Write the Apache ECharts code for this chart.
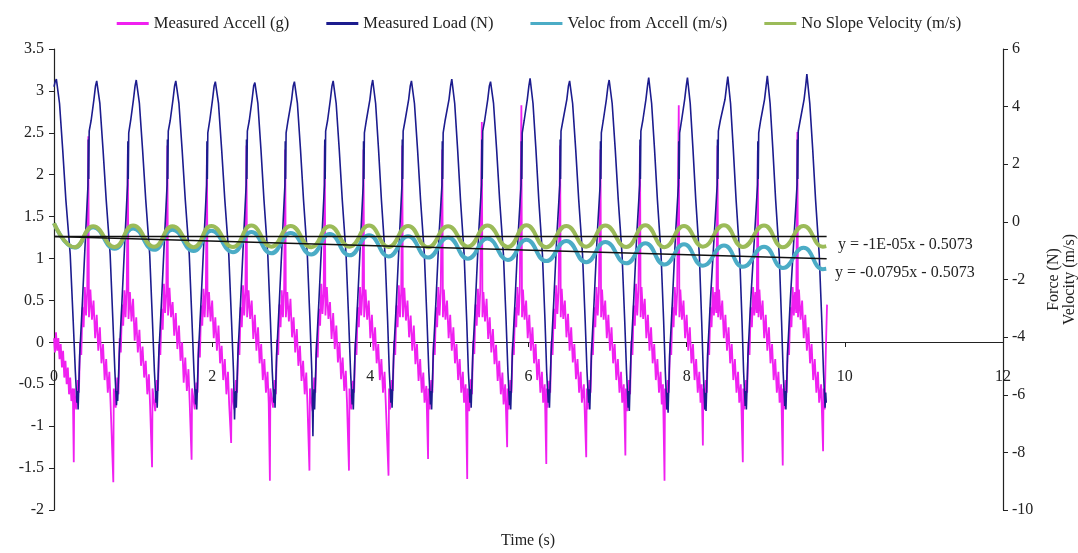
<!DOCTYPE html>
<html>
<head>
<meta charset="utf-8">
<script src="https://cdn.jsdelivr.net/npm/echarts@6.0.0/dist/echarts.min.js"></script>
<style>
  html, body { margin: 0; padding: 0; background: #fff; }
  #content { width: 1078px; height: 553px; }
</style>
</head>
<body>
<div id="content"></div>
<script>
// 数据（从图上读出的点，[时间 s, 数值]）
const legendNames = ["Measured Accell (g)", "Measured Load (N)", "Veloc from Accell (m/s)", "No Slope Velocity (m/s)"];
const leftTicks = { min: -2, max: 3.5, step: 0.5 };
const rightTicks = { min: -10, max: 6, step: 2 };
const timeTicks = { min: 0, max: 12, step: 2 };
const trendText = ["y = -1E-05x - 0.5073", "y = -0.0795x - 0.5073"];

const accelPts = [
  [0,0.05],[0.012,-0.12],[0.025,0.12],[0.04,-0.1],[0.055,0.05],[0.07,-0.2],[0.085,-0.02],[0.1,-0.3],[0.115,-0.1],[0.13,-0.42],[0.145,-0.22],[0.16,-0.5],[0.175,-0.3],[0.19,-0.62],[0.205,-0.42],[0.22,-0.7],[0.238,-0.55],[0.25,-1.43],[0.256,-0.55],
  [0.28,-0.8],[0.3,-0.45],[0.315,-0.6],[0.33,0.0],[0.345,-0.15],[0.36,0.42],[0.375,0.18],[0.39,0.66],[0.405,0.32],[0.42,0.6],[0.434,2.46],[0.442,0.3],[0.46,0.63],[0.48,0.27],[0.5,0.5],[0.52,0.05],[0.54,0.33],[0.56,-0.1],[0.58,0.18],[0.6,-0.25],[0.62,-0.02],[0.64,-0.45],[0.66,-0.2],[0.68,-0.6],[0.7,-0.35],[0.715,-0.72],[0.75,-1.67],[0.756,-0.55],
  [0.78,-0.78],[0.8,-0.42],[0.815,-0.62],[0.83,0.05],[0.845,-0.12],[0.86,0.45],[0.875,0.2],[0.89,0.62],[0.905,0.3],[0.92,0.65],[0.934,2.3],[0.942,0.28],[0.96,0.6],[0.98,0.25],[1.0,0.52],[1.02,0.02],[1.04,0.3],[1.06,-0.12],[1.08,0.15],[1.1,-0.28],[1.12,-0.05],[1.14,-0.42],[1.16,-0.22],[1.18,-0.62],[1.2,-0.38],[1.215,-0.75],[1.24,-1.49],[1.246,-0.55],
  [1.28,-0.82],[1.3,-0.45],[1.315,-0.58],[1.33,-0.02],[1.345,-0.15],[1.36,0.4],[1.375,0.15],[1.39,0.7],[1.405,0.35],[1.42,0.58],[1.434,2.35],[1.442,0.32],[1.46,0.65],[1.48,0.3],[1.5,0.48],[1.52,0.08],[1.54,0.35],[1.56,-0.08],[1.58,0.2],[1.6,-0.22],[1.62,0.0],[1.64,-0.48],[1.66,-0.18],[1.68,-0.58],[1.7,-0.32],[1.715,-0.7],[1.74,-1.4],[1.746,-0.55],
  [1.78,-0.8],[1.8,-0.48],[1.815,-0.6],[1.83,0.02],[1.845,-0.18],[1.86,0.44],[1.875,0.2],[1.89,0.64],[1.905,0.3],[1.92,0.62],[1.934,2.3],[1.942,0.3],[1.96,0.6],[1.98,0.25],[2.0,0.5],[2.02,0.05],[2.04,0.3],[2.06,-0.1],[2.08,0.2],[2.1,-0.25],[2.12,-0.04],[2.14,-0.45],[2.16,-0.2],[2.18,-0.62],[2.2,-0.35],[2.215,-0.74],[2.24,-1.2],[2.246,-0.55],
  [2.28,-0.8],[2.3,-0.45],[2.315,-0.6],[2.33,0.0],[2.345,-0.15],[2.36,0.42],[2.375,0.18],[2.39,0.68],[2.405,0.32],[2.42,0.6],[2.434,2.35],[2.442,0.3],[2.46,0.62],[2.48,0.28],[2.5,0.5],[2.52,0.04],[2.54,0.33],[2.56,-0.1],[2.58,0.18],[2.6,-0.25],[2.62,-0.02],[2.64,-0.45],[2.66,-0.2],[2.68,-0.6],[2.7,-0.35],[2.715,-0.72],[2.73,-1.65],[2.736,-0.55],
  [2.77,-0.78],[2.79,-0.45],[2.805,-0.62],[2.82,0.03],[2.835,-0.15],[2.85,0.45],[2.865,0.18],[2.88,0.62],[2.895,0.3],[2.91,0.64],[2.924,2.3],[2.932,0.3],[2.95,0.6],[2.97,0.25],[2.99,0.52],[3.01,0.06],[3.03,0.3],[3.05,-0.12],[3.07,0.16],[3.09,-0.28],[3.11,-0.04],[3.13,-0.46],[3.15,-0.22],[3.17,-0.62],[3.19,-0.36],[3.205,-0.74],[3.23,-1.53],[3.236,-0.55],
  [3.27,-0.82],[3.29,-0.42],[3.305,-0.6],[3.32,0.0],[3.335,-0.18],[3.35,0.4],[3.365,0.2],[3.38,0.7],[3.395,0.34],[3.41,0.58],[3.424,2.35],[3.432,0.32],[3.45,0.66],[3.47,0.28],[3.49,0.48],[3.51,0.04],[3.53,0.35],[3.55,-0.08],[3.57,0.2],[3.59,-0.24],[3.61,0.0],[3.63,-0.44],[3.65,-0.18],[3.67,-0.58],[3.69,-0.34],[3.705,-0.72],[3.73,-1.53],[3.736,-0.55],
  [3.76,-0.8],[3.78,-0.46],[3.795,-0.6],[3.81,0.0],[3.825,-0.15],[3.84,0.42],[3.855,0.18],[3.87,0.66],[3.885,0.32],[3.9,0.6],[3.914,2.3],[3.922,0.3],[3.94,0.63],[3.96,0.27],[3.98,0.5],[4.0,0.05],[4.02,0.33],[4.04,-0.1],[4.06,0.18],[4.08,-0.25],[4.1,-0.02],[4.12,-0.45],[4.14,-0.2],[4.16,-0.6],[4.18,-0.35],[4.195,-0.72],[4.23,-1.59],[4.236,-0.55],
  [4.25,-0.8],[4.27,-0.45],[4.285,-0.58],[4.3,0.02],[4.315,-0.15],[4.33,0.44],[4.345,0.18],[4.36,0.68],[4.375,0.3],[4.39,0.6],[4.404,2.35],[4.412,0.3],[4.43,0.65],[4.45,0.26],[4.47,0.5],[4.49,0.06],[4.51,0.32],[4.53,-0.1],[4.55,0.2],[4.57,-0.26],[4.59,-0.02],[4.61,-0.46],[4.63,-0.2],[4.65,-0.6],[4.67,-0.36],[4.685,-0.72],[4.708,-0.52],[4.73,-1.39],[4.736,-0.55],
  [4.75,-0.8],[4.77,-0.45],[4.785,-0.6],[4.8,0.0],[4.815,-0.15],[4.83,0.42],[4.845,0.18],[4.86,0.66],[4.875,0.32],[4.89,0.6],[4.91,2.3],[4.918,0.3],[4.93,0.63],[4.95,0.27],[4.97,0.5],[4.99,0.05],[5.01,0.33],[5.03,-0.1],[5.05,0.18],[5.07,-0.25],[5.09,-0.02],[5.11,-0.45],[5.13,-0.2],[5.15,-0.6],[5.17,-0.35],[5.185,-0.72],[5.205,-0.5],[5.225,-1.63],[5.231,-0.55],
  [5.25,-0.82],[5.27,-0.44],[5.285,-0.62],[5.3,0.02],[5.315,-0.14],[5.33,0.45],[5.345,0.2],[5.36,0.64],[5.375,0.3],[5.39,0.62],[5.41,2.63],[5.418,0.3],[5.43,0.6],[5.45,0.25],[5.47,0.52],[5.49,0.04],[5.51,0.3],[5.53,-0.12],[5.55,0.16],[5.57,-0.26],[5.59,-0.03],[5.61,-0.46],[5.63,-0.22],[5.65,-0.62],[5.67,-0.36],[5.685,-0.74],[5.705,-0.5],[5.73,-1.25],[5.736,-0.55],
  [5.75,-0.8],[5.77,-0.45],[5.785,-0.6],[5.8,0.0],[5.815,-0.15],[5.83,0.42],[5.845,0.18],[5.86,0.66],[5.875,0.32],[5.89,0.6],[5.91,2.83],[5.918,0.3],[5.93,0.63],[5.95,0.27],[5.97,0.5],[5.99,0.05],[6.01,0.33],[6.03,-0.1],[6.05,0.18],[6.07,-0.25],[6.09,-0.02],[6.11,-0.45],[6.13,-0.2],[6.15,-0.6],[6.17,-0.35],[6.185,-0.72],[6.205,-0.5],[6.225,-1.45],[6.231,-0.55],
  [6.24,-0.78],[6.26,-0.46],[6.275,-0.6],[6.29,0.02],[6.305,-0.15],[6.32,0.4],[6.335,0.16],[6.35,0.68],[6.365,0.34],[6.38,0.6],[6.4,2.35],[6.408,0.3],[6.42,0.64],[6.44,0.28],[6.46,0.5],[6.48,0.06],[6.5,0.34],[6.52,-0.1],[6.54,0.18],[6.56,-0.24],[6.58,-0.02],[6.6,-0.44],[6.62,-0.2],[6.64,-0.6],[6.66,-0.35],[6.675,-0.72],[6.7,-0.5],[6.73,-1.37],[6.736,-0.55],
  [6.75,-0.8],[6.77,-0.45],[6.785,-0.6],[6.8,0.0],[6.815,-0.15],[6.83,0.42],[6.845,0.18],[6.86,0.66],[6.875,0.32],[6.89,0.6],[6.91,2.3],[6.918,0.3],[6.93,0.63],[6.95,0.27],[6.97,0.5],[6.99,0.05],[7.01,0.33],[7.03,-0.1],[7.05,0.18],[7.07,-0.25],[7.09,-0.02],[7.11,-0.45],[7.13,-0.2],[7.15,-0.6],[7.17,-0.35],[7.185,-0.72],[7.205,-0.5],[7.225,-1.35],[7.231,-0.55],
  [7.25,-0.82],[7.27,-0.45],[7.285,-0.62],[7.3,0.02],[7.315,-0.15],[7.33,0.44],[7.345,0.2],[7.36,0.7],[7.375,0.32],[7.39,0.62],[7.41,2.35],[7.418,0.3],[7.43,0.66],[7.45,0.28],[7.47,0.52],[7.49,0.05],[7.51,0.33],[7.53,-0.1],[7.55,0.18],[7.57,-0.25],[7.59,-0.02],[7.61,-0.45],[7.63,-0.2],[7.65,-0.6],[7.67,-0.35],[7.685,-0.74],[7.7,-0.5],[7.72,-1.65],[7.726,-0.55],
  [7.74,-0.8],[7.76,-0.45],[7.775,-0.6],[7.79,0.0],[7.805,-0.15],[7.82,0.42],[7.835,0.18],[7.85,0.66],[7.865,0.32],[7.88,0.6],[7.9,2.83],[7.908,0.3],[7.92,0.63],[7.94,0.27],[7.96,0.5],[7.98,0.05],[8.0,0.33],[8.02,-0.1],[8.04,0.18],[8.06,-0.25],[8.08,-0.02],[8.1,-0.45],[8.12,-0.2],[8.14,-0.6],[8.16,-0.35],[8.175,-0.72],[8.19,-0.5],[8.205,-1.23],[8.211,-0.55],
  [8.22,-0.8],[8.24,-0.45],[8.255,-0.6],[8.27,0.0],[8.285,-0.15],[8.3,0.42],[8.315,0.18],[8.33,0.66],[8.345,0.32],[8.36,0.6],[8.375,0.35],[8.39,2.35],[8.398,0.3],[8.41,0.63],[8.43,0.27],[8.45,0.5],[8.47,0.05],[8.49,0.33],[8.51,-0.1],[8.53,0.18],[8.55,-0.25],[8.57,-0.02],[8.59,-0.45],[8.61,-0.2],[8.63,-0.6],[8.65,-0.35],[8.665,-0.72],[8.685,-0.5],[8.71,-1.43],[8.716,-0.55],
  [8.73,-0.8],[8.75,-0.45],[8.765,-0.6],[8.78,0.0],[8.795,-0.15],[8.81,0.42],[8.825,0.18],[8.84,0.66],[8.855,0.32],[8.87,0.6],[8.885,0.35],[8.9,2.3],[8.908,0.3],[8.92,0.63],[8.94,0.27],[8.96,0.5],[8.98,0.05],[9.0,0.33],[9.02,-0.1],[9.04,0.18],[9.06,-0.25],[9.08,-0.02],[9.1,-0.45],[9.12,-0.2],[9.14,-0.6],[9.16,-0.35],[9.175,-0.72],[9.195,-0.5],[9.215,-1.47],[9.221,-0.55],
  [9.23,-0.8],[9.25,-0.45],[9.265,-0.6],[9.28,0.0],[9.295,-0.15],[9.31,0.42],[9.325,0.18],[9.34,0.66],[9.355,0.32],[9.37,0.6],[9.385,0.35],[9.4,2.51],[9.408,0.3],[9.42,0.63],[9.44,0.27],[9.46,0.5],[9.48,0.05],[9.5,0.33],[9.52,-0.1],[9.54,0.18],[9.56,-0.25],[9.58,-0.02],[9.6,-0.45],[9.62,-0.2],[9.64,-0.6],[9.66,-0.35],[9.675,-0.72],[9.7,-0.5],[9.725,-1.3],[9.731,-0.55],
  [9.745,-0.8],[9.755,-0.3],[9.765,0.1],[9.775,0.45]
];

const loadPts = [
  [0,3.05],[0.015,3.11],
  [0.03,3.14],[0.07,2.85],[0.11,2.3],[0.15,1.7],[0.205,1.05],[0.243,0.25],[0.27,-0.35],[0.29,-0.72],[0.298,-0.58],[0.305,-0.8],[0.325,-0.15],[0.36,0.5],[0.4,1.3],[0.43,1.88],[0.434,2.42],[0.439,1.95],[0.445,2.52],[0.47,2.65],[0.505,2.9],[0.525,3.06],
  [0.54,3.12],[0.58,2.85],[0.62,2.3],[0.66,1.7],[0.71,1.05],[0.745,0.25],[0.77,-0.35],[0.79,-0.75],[0.798,-0.58],[0.805,-0.7],[0.825,-0.15],[0.86,0.5],[0.9,1.3],[0.93,1.88],[0.934,2.4],[0.939,1.95],[0.945,2.5],[0.97,2.65],[1.005,2.9],[1.025,3.06],
  [1.04,3.13],[1.08,2.85],[1.12,2.3],[1.16,1.7],[1.21,1.05],[1.245,0.25],[1.27,-0.35],[1.29,-0.72],[1.298,-0.58],[1.305,-0.78],[1.325,-0.15],[1.36,0.5],[1.4,1.3],[1.43,1.88],[1.434,2.42],[1.439,1.95],[1.445,2.52],[1.47,2.65],[1.505,2.9],[1.525,3.06],
  [1.54,3.12],[1.58,2.85],[1.62,2.3],[1.66,1.7],[1.71,1.05],[1.745,0.25],[1.77,-0.35],[1.79,-0.74],[1.798,-0.56],[1.805,-0.8],[1.825,-0.15],[1.86,0.5],[1.9,1.3],[1.93,1.88],[1.934,2.4],[1.939,1.95],[1.945,2.5],[1.97,2.65],[2.005,2.9],[2.025,3.06],
  [2.04,3.11],[2.08,2.85],[2.12,2.3],[2.16,1.7],[2.21,1.05],[2.245,0.25],[2.27,-0.35],[2.283,-0.92],[2.29,-0.65],[2.298,-0.58],[2.305,-0.78],[2.325,-0.15],[2.36,0.5],[2.4,1.3],[2.43,1.88],[2.434,2.42],[2.439,1.95],[2.445,2.52],[2.47,2.65],[2.505,2.9],[2.525,3.06],
  [2.54,3.1],[2.578,2.85],[2.617,2.3],[2.655,1.7],[2.703,1.05],[2.737,0.25],[2.76,-0.35],[2.78,-0.72],[2.788,-0.56],[2.795,-0.78],[2.815,-0.15],[2.85,0.5],[2.89,1.3],[2.92,1.88],[2.924,2.4],[2.929,1.95],[2.935,2.5],[2.96,2.65],[3.005,2.9],[3.025,3.06],
  [3.04,3.11],[3.078,2.85],[3.117,2.3],[3.155,1.7],[3.203,1.05],[3.237,0.25],[3.26,-0.35],[3.274,-1.12],[3.28,-0.7],[3.288,-0.56],[3.295,-0.8],[3.315,-0.15],[3.35,0.5],[3.39,1.3],[3.42,1.88],[3.424,2.42],[3.429,1.95],[3.435,2.52],[3.46,2.65],[3.495,2.9],[3.515,3.06],
  [3.53,3.12],[3.568,2.85],[3.607,2.3],[3.645,1.7],[3.693,1.05],[3.727,0.25],[3.75,-0.35],[3.77,-0.74],[3.778,-0.56],[3.785,-0.8],[3.805,-0.15],[3.84,0.5],[3.88,1.3],[3.91,1.88],[3.914,2.4],[3.919,1.95],[3.925,2.5],[3.95,2.65],[3.995,2.9],[4.015,3.06],
  [4.03,3.13],[4.067,2.85],[4.104,2.3],[4.14,1.7],[4.186,1.05],[4.219,0.25],[4.24,-0.35],[4.26,-0.72],[4.268,-0.56],[4.275,-0.78],[4.295,-0.15],[4.33,0.5],[4.37,1.3],[4.4,1.88],[4.404,2.42],[4.409,1.95],[4.415,2.52],[4.44,2.65],[4.485,2.9],[4.505,3.06],
  [4.52,3.12],[4.558,2.85],[4.597,2.3],[4.635,1.7],[4.683,1.05],[4.717,0.25],[4.74,-0.35],[4.76,-0.74],[4.768,-0.58],[4.775,-0.8],[4.795,-0.15],[4.83,0.5],[4.87,1.3],[4.906,1.88],[4.91,2.4],[4.915,1.95],[4.921,2.5],[4.946,2.65],[4.995,2.9],[5.015,3.06],
  [5.03,3.14],[5.067,2.85],[5.104,2.3],[5.14,1.7],[5.186,1.05],[5.219,0.25],[5.24,-0.35],[5.26,-0.72],[5.268,-0.56],[5.275,-0.78],[5.295,-0.15],[5.33,0.5],[5.37,1.3],[5.406,1.88],[5.41,2.42],[5.415,1.95],[5.421,2.52],[5.446,2.65],[5.485,2.9],[5.505,3.06],
  [5.52,3.11],[5.558,2.85],[5.597,2.3],[5.635,1.7],[5.683,1.05],[5.717,0.25],[5.74,-0.35],[5.76,-0.75],[5.768,-0.58],[5.775,-0.8],[5.795,-0.15],[5.83,0.5],[5.87,1.3],[5.906,1.88],[5.91,2.4],[5.915,1.95],[5.921,2.5],[5.946,2.65],[5.985,2.9],[6.005,3.06],
  [6.02,3.15],[6.057,2.85],[6.094,2.3],[6.13,1.7],[6.176,1.05],[6.209,0.25],[6.23,-0.35],[6.25,-0.72],[6.258,-0.56],[6.265,-0.78],[6.285,-0.15],[6.32,0.5],[6.36,1.3],[6.396,1.88],[6.4,2.42],[6.405,1.95],[6.411,2.52],[6.436,2.65],[6.485,2.9],[6.505,3.06],
  [6.52,3.12],[6.558,2.85],[6.597,2.3],[6.635,1.7],[6.683,1.05],[6.717,0.25],[6.74,-0.35],[6.76,-0.72],[6.768,-0.56],[6.775,-0.8],[6.795,-0.15],[6.83,0.5],[6.87,1.3],[6.906,1.88],[6.91,2.4],[6.915,1.95],[6.921,2.5],[6.946,2.65],[6.985,2.9],[7.005,3.06],
  [7.02,3.13],[7.058,2.85],[7.097,2.3],[7.135,1.7],[7.183,1.05],[7.217,0.25],[7.24,-0.35],[7.26,-0.78],[7.268,-0.58],[7.275,-0.82],[7.295,-0.15],[7.33,0.5],[7.37,1.3],[7.406,1.88],[7.41,2.42],[7.415,1.95],[7.421,2.52],[7.446,2.65],[7.485,2.9],[7.505,3.06],
  [7.52,3.16],[7.557,2.85],[7.594,2.3],[7.63,1.7],[7.676,1.05],[7.709,0.25],[7.73,-0.35],[7.75,-0.8],[7.758,-0.6],[7.765,-0.84],[7.785,-0.15],[7.82,0.5],[7.86,1.3],[7.896,1.88],[7.9,2.4],[7.905,1.95],[7.911,2.5],[7.936,2.65],[7.975,2.9],[7.995,3.06],
  [8.01,3.16],[8.045,2.85],[8.08,2.3],[8.115,1.7],[8.16,1.05],[8.19,0.25],[8.21,-0.35],[8.23,-0.8],[8.238,-0.6],[8.245,-0.82],[8.265,-0.15],[8.3,0.5],[8.35,1.3],[8.386,1.88],[8.39,2.42],[8.395,1.95],[8.401,2.52],[8.426,2.65],[8.485,2.9],[8.505,3.06],
  [8.52,3.17],[8.555,2.85],[8.59,2.3],[8.625,1.7],[8.67,1.05],[8.7,0.25],[8.72,-0.35],[8.74,-0.76],[8.748,-0.58],[8.755,-0.8],[8.775,-0.15],[8.81,0.5],[8.86,1.3],[8.896,1.88],[8.9,2.4],[8.905,1.95],[8.911,2.5],[8.936,2.65],[8.985,2.9],[9.005,3.06],
  [9.02,3.18],[9.055,2.85],[9.09,2.3],[9.125,1.7],[9.17,1.05],[9.2,0.25],[9.22,-0.35],[9.24,-0.76],[9.248,-0.58],[9.255,-0.8],[9.275,-0.15],[9.31,0.5],[9.36,1.3],[9.396,1.88],[9.4,2.42],[9.405,1.95],[9.411,2.52],[9.436,2.65],[9.485,2.9],[9.505,3.06],
  [9.52,3.2],[9.557,2.85],[9.594,2.3],[9.63,1.7],[9.676,1.05],[9.709,0.25],[9.73,-0.35],[9.75,-0.78],[9.758,-0.6],[9.765,-0.72]
];

const velocPts = [
  [0,-0.05],[0.262,-0.89],[0.495,-0.19],[0.767,-0.93],[1.0,-0.23],[1.265,-0.97],[1.497,-0.27],[1.766,-1.01],
  [1.99,-0.31],[2.263,-1.05],[2.496,-0.35],[2.748,-1.09],[2.993,-0.39],[3.253,-1.13],[3.486,-0.42],[3.738,-1.16],
  [3.984,-0.46],[4.231,-1.2],[4.477,-0.5],[4.729,-1.24],[4.983,-0.54],[5.234,-1.28],[5.48,-0.58],[5.74,-1.32],
  [5.973,-0.62],[6.224,-1.36],[6.478,-0.66],[6.73,-1.4],[6.971,-0.7],[7.236,-1.44],[7.477,-0.74],[7.72,-1.48],
  [7.966,-0.78],[8.205,-1.52],[8.472,-0.82],[8.711,-1.56],[8.978,-0.86],[9.216,-1.6],[9.478,-0.9],[9.722,-1.64],[9.765,-1.63]
];

const noSlopePts = [
  [0,-0.05],[0.262,-0.88],[0.495,-0.15],[0.767,-0.87],[1.0,-0.13],[1.265,-0.86],[1.497,-0.15],[1.766,-0.88],
  [1.99,-0.14],[2.263,-0.87],[2.496,-0.13],[2.748,-0.86],[2.993,-0.14],[3.253,-0.88],[3.486,-0.15],[3.738,-0.86],
  [3.984,-0.13],[4.231,-0.87],[4.477,-0.14],[4.729,-0.88],[4.983,-0.15],[5.234,-0.86],[5.48,-0.13],[5.74,-0.87],
  [5.973,-0.12],[6.224,-0.88],[6.478,-0.14],[6.73,-0.86],[6.971,-0.13],[7.236,-0.87],[7.477,-0.12],[7.72,-0.88],
  [7.966,-0.14],[8.205,-0.86],[8.472,-0.12],[8.711,-0.87],[8.978,-0.13],[9.216,-0.88],[9.478,-0.14],[9.722,-0.86],[9.765,-0.84]
];

const trendFlatPts = [[0,-0.5073],[9.77,-0.5074]];
const trendSlopePts = [[0,-0.5073],[9.77,-1.284]];

const serifFont = "'Liberation Serif', 'DejaVu Serif', serif";

let myChart = echarts.init(document.getElementById("content"));

let lineSeries = (name, data, color, width, axis, smooth) => ({
  name: name,
  type: "line",
  data: data,
  yAxisIndex: axis,
  symbol: "none",
  smooth: smooth,
  sampling: null,
  lineStyle: { color: color, width: width },
  itemStyle: { color: color },
});

myChart.setOption({
  animation: false,
  backgroundColor: "#fff",
  textStyle: { fontFamily: serifFont },
  legend: {
    data: legendNames,
    top: 10,
    left: "center",
    icon: "rect",
    itemWidth: 32,
    itemHeight: 3,
    itemGap: 37,
    textStyle: { fontFamily: serifFont, fontSize: 16.5, color: "#222" },
  },
  grid: { left: 54, right: 75, top: 49, bottom: 43, outerBoundsMode: "none", containLabel: false },
  xAxis: {
    type: "value",
    min: timeTicks.min,
    max: timeTicks.max,
    interval: timeTicks.step,
    // 横轴放在左轴 0 的位置（连同刻度和标签）
    offset: -168,
    axisLine: { onZero: false, lineStyle: { color: "#222", width: 1.2 } },
    axisTick: { show: true, length: 5, lineStyle: { color: "#222" } },
    axisLabel: { margin: 27, fontFamily: serifFont, fontSize: 16, color: "#222" },
    splitLine: { show: false },
  },
  yAxis: [
    {
      type: "value",
      min: leftTicks.min,
      max: leftTicks.max,
      interval: leftTicks.step,
      axisLine: { show: true, onZero: false, lineStyle: { color: "#222", width: 1.2 } },
      axisTick: { show: true, length: 5, lineStyle: { color: "#222" } },
      axisLabel: { margin: 10, fontFamily: serifFont, fontSize: 16, color: "#222" },
      splitLine: { show: false },
    },
    {
      type: "value",
      position: "right",
      min: rightTicks.min,
      max: rightTicks.max,
      interval: rightTicks.step,
      name: "Force (N)\nVelocity (m/s)",
      nameLocation: "middle",
      nameRotate: 90,
      nameGap: 43,
      nameTextStyle: { fontFamily: serifFont, fontSize: 16, color: "#222", lineHeight: 16 },
      axisLine: { show: true, onZero: false, lineStyle: { color: "#222", width: 1.2 } },
      axisTick: { show: true, length: 5, lineStyle: { color: "#222" } },
      axisLabel: { margin: 9, fontFamily: serifFont, fontSize: 16, color: "#222" },
      splitLine: { show: false },
    },
  ],
  graphic: [
    {
      type: "text",
      left: 501,
      top: 533,
      style: { text: "Time (s)", font: "16px " + serifFont, fill: "#222" },
    },
    {
      type: "text",
      left: 838,
      top: 237,
      style: { text: trendText[0], font: "16px " + serifFont, fill: "#222" },
    },
    {
      type: "text",
      left: 835,
      top: 265,
      style: { text: trendText[1], font: "16px " + serifFont, fill: "#222" },
    },
  ],
  series: [
    lineSeries(legendNames[0], accelPts, "#f020f0", 1.8, 0, false),
    lineSeries(legendNames[1], loadPts, "#1c1c8e", 1.6, 0, false),
    lineSeries(legendNames[2], velocPts, "#4bacc6", 4, 1, true),
    lineSeries(legendNames[3], noSlopePts, "#9bbb59", 4, 1, true),
    lineSeries("trend flat", trendFlatPts, "#111", 1.5, 1, false),
    lineSeries("trend slope", trendSlopePts, "#111", 1.5, 1, false),
  ],
});

window.addEventListener("resize", function () {
  myChart.resize();
});
</script>
</body>
</html>
